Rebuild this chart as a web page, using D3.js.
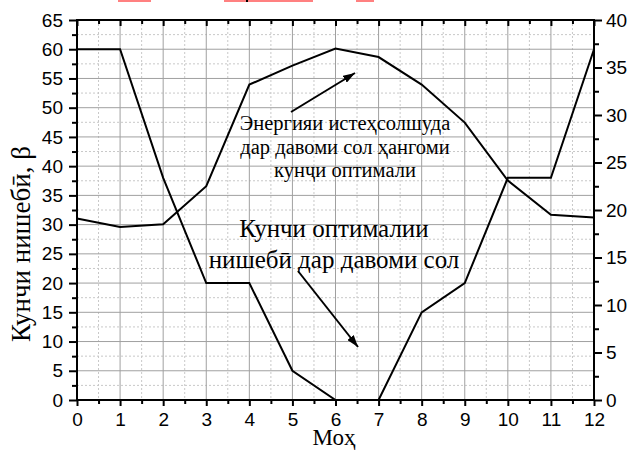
<!DOCTYPE html>
<html>
<head>
<meta charset="utf-8">
<script src="https://cdn.jsdelivr.net/npm/d3@7"></script>
<style>
  html, body { margin: 0; padding: 0; background: #fff; }
  svg { display: block; }
  .tick text { font-family: "Liberation Sans", Arial, sans-serif; font-size: 19px; fill: #000; }
  .serif { font-family: "Liberation Serif", "Times New Roman", serif; fill: #000; }
</style>
</head>
<body>
<svg id="chart" width="630" height="451"></svg>
<script>
// Months (0..12) along the x axis
const months = [0, 1, 2, 3, 4, 5, 6, 7, 8, 9, 10, 11, 12];
// Optimal tilt angle β through the year (left axis, degrees)
const tiltAngle = [60, 60, 38, 20, 20, 5, 0, 0, 15, 20, 38, 38, 60];
// Energy produced at the optimal angle through the year (right axis)
const energyOutput = [19.1, 18.2, 18.5, 22.5, 33.2, 35.2, 37.0, 36.1, 33.2, 29.2, 23.1, 19.5, 19.2];

// Tick values
const xMajorTicks = d3.range(0, 13, 1);
const xMinorTicks = d3.range(0.5, 12, 1);
const yLeftMajorTicks = d3.range(0, 66, 5);
const yLeftMinorTicks = d3.range(2.5, 65, 5);
const yRightMajorTicks = d3.range(0, 41, 5);
const yRightMinorTicks = d3.range(2.5, 40, 5);

// Text
const xTitle = "Моҳ";
const yTitle = "Кунчи нишебӣ, β";
const energyNote = ["Энергияи истеҳсолшуда", "дар давоми сол ҳангоми", "кунҷи оптимали"];
const tiltNote = ["Кунчи оптималии", "нишебӣ дар давоми сол"];

const svg = d3.select("#chart");
const plotLeft = 77, plotRight = 594, plotTop = 20, plotBottom = 400;

const x = d3.scaleLinear().domain([0, 12]).range([plotLeft, plotRight]);
const yL = d3.scaleLinear().domain([0, 65]).range([plotBottom, plotTop]);
const yR = d3.scaleLinear().domain([0, 40]).range([plotBottom, plotTop]);

// Thin coloured strips along the upper edge
const strip = svg.append("g");
[[118, 33], [224, 89], [356, 18]].forEach(([sx, sw]) => {
  strip.append("rect").attr("x", sx).attr("y", 0).attr("width", sw).attr("height", 2).attr("fill", "#ff8080");
});
strip.append("rect").attr("x", 246).attr("y", 0).attr("width", 2).attr("height", 2).attr("fill", "#000");

// Grid: dotted minor lines first, solid major lines above them
const grid = svg.append("g");
grid.selectAll(".vminor").data(xMinorTicks).enter().append("line")
  .attr("x1", d => x(d)).attr("x2", d => x(d)).attr("y1", plotTop).attr("y2", plotBottom)
  .attr("stroke", "#c8c8c8").attr("stroke-width", 1).attr("stroke-dasharray", "2,2");
grid.selectAll(".hminor").data(yLeftMinorTicks).enter().append("line")
  .attr("x1", plotLeft).attr("x2", plotRight).attr("y1", d => yL(d)).attr("y2", d => yL(d))
  .attr("stroke", "#c8c8c8").attr("stroke-width", 1).attr("stroke-dasharray", "2,2");
grid.selectAll(".vmajor").data(xMajorTicks.slice(1, -1)).enter().append("line")
  .attr("x1", d => x(d)).attr("x2", d => x(d)).attr("y1", plotTop).attr("y2", plotBottom)
  .attr("stroke", "#a0a0a0").attr("stroke-width", 1);
grid.selectAll(".hmajor").data(yLeftMajorTicks.slice(1, -1)).enter().append("line")
  .attr("x1", plotLeft).attr("x2", plotRight).attr("y1", d => yL(d)).attr("y2", d => yL(d))
  .attr("stroke", "#a0a0a0").attr("stroke-width", 1);

// Data lines
const lineL = d3.line().x((d, i) => x(months[i])).y(d => yL(d));
const lineR = d3.line().x((d, i) => x(months[i])).y(d => yR(d));
svg.append("path").datum(tiltAngle).attr("d", lineL)
  .attr("fill", "none").attr("stroke", "#000").attr("stroke-width", 2).attr("stroke-linejoin", "miter");
svg.append("path").datum(energyOutput).attr("d", lineR)
  .attr("fill", "none").attr("stroke", "#000").attr("stroke-width", 2).attr("stroke-linejoin", "miter");

// Axes
function styleAxis(g) {
  g.select(".domain").remove();
  g.selectAll(".tick line").attr("stroke", "#000").attr("stroke-width", 2);
}
// bottom
svg.append("g").attr("transform", `translate(0,${plotBottom})`)
  .call(d3.axisBottom(x).tickValues(xMinorTicks).tickSize(4).tickFormat(""))
  .call(styleAxis);
svg.append("g").attr("transform", `translate(0,${plotBottom})`)
  .call(d3.axisBottom(x).tickValues(xMajorTicks).tickSize(6).tickPadding(7).tickFormat(d3.format("d")))
  .call(styleAxis);
// top (ticks point into the plot)
svg.append("g").attr("transform", `translate(0,${plotTop})`)
  .call(d3.axisBottom(x).tickValues(xMinorTicks).tickSize(4).tickFormat(""))
  .call(styleAxis);
svg.append("g").attr("transform", `translate(0,${plotTop})`)
  .call(d3.axisBottom(x).tickValues(xMajorTicks).tickSize(6).tickFormat(""))
  .call(styleAxis);
// left
svg.append("g").attr("transform", `translate(${plotLeft},0)`)
  .call(d3.axisLeft(yL).tickValues(yLeftMinorTicks).tickSize(5).tickFormat(""))
  .call(styleAxis);
svg.append("g").attr("transform", `translate(${plotLeft},0)`)
  .call(d3.axisLeft(yL).tickValues(yLeftMajorTicks).tickSize(8).tickPadding(6).tickFormat(d3.format("d")))
  .call(styleAxis);
// right
svg.append("g").attr("transform", `translate(${plotRight},0)`)
  .call(d3.axisRight(yR).tickValues(yRightMinorTicks).tickSize(5).tickFormat(""))
  .call(styleAxis);
svg.append("g").attr("transform", `translate(${plotRight},0)`)
  .call(d3.axisRight(yR).tickValues(yRightMajorTicks).tickSize(8).tickPadding(4).tickFormat(d3.format("d")))
  .call(styleAxis);

// Frame
svg.append("rect").attr("x", plotLeft).attr("y", plotTop)
  .attr("width", plotRight - plotLeft).attr("height", plotBottom - plotTop)
  .attr("fill", "none").attr("stroke", "#000").attr("stroke-width", 2);

// Axis titles
svg.append("text").attr("class", "serif").attr("x", 334).attr("y", 445)
  .attr("text-anchor", "middle").attr("font-size", 23).text(xTitle);
svg.append("text").attr("class", "serif")
  .attr("transform", "translate(30,244) rotate(-90)")
  .attr("text-anchor", "middle").attr("font-size", 27).text(yTitle);

// Annotations
const noteA = svg.append("text").attr("class", "serif").attr("text-anchor", "middle").attr("font-size", 20.5);
energyNote.forEach((t, i) => noteA.append("tspan").attr("x", 345).attr("y", 130 + i * 23.5).text(t));
const noteB = svg.append("text").attr("class", "serif").attr("text-anchor", "middle").attr("font-size", 25);
tiltNote.forEach((t, i) => noteB.append("tspan").attr("x", 334).attr("y", 237 + i * 31).text(t));

// Arrows
svg.append("defs").append("marker").attr("id", "head")
  .attr("viewBox", "0 0 12 8").attr("refX", 12).attr("refY", 4)
  .attr("markerWidth", 12).attr("markerHeight", 8).attr("markerUnits", "userSpaceOnUse")
  .attr("orient", "auto")
  .append("path").attr("d", "M0,0 L12,4 L0,8 Z").attr("fill", "#000");
[[291, 112, 355, 73], [298, 271, 358, 347]].forEach(([x1, y1, x2, y2]) => {
  svg.append("line").attr("x1", x1).attr("y1", y1).attr("x2", x2).attr("y2", y2)
    .attr("stroke", "#000").attr("stroke-width", 2).attr("marker-end", "url(#head)");
});
</script>
</body>
</html>
